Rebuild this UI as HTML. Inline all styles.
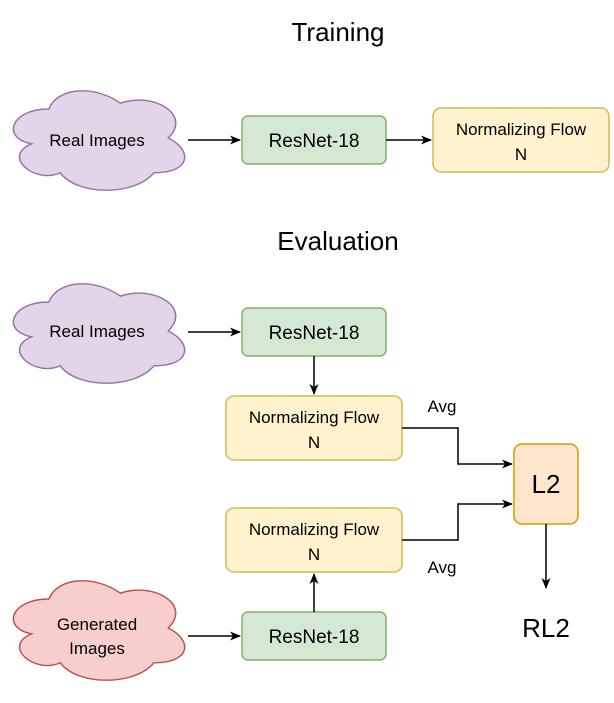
<!DOCTYPE html>
<html><head><meta charset="utf-8"><style>
html,body{margin:0;padding:0;background:#fff;}
svg{display:block;}
text{font-family:"Liberation Sans",sans-serif;fill:#000;}
</style></head><body>
<svg width="614" height="703" viewBox="0 0 614 703" xmlns="http://www.w3.org/2000/svg">
<defs>
<marker id="a" markerWidth="12" markerHeight="12" refX="10" refY="6" orient="auto" markerUnits="userSpaceOnUse">
<path d="M0,1.5 L11,6 L0,10.5 L3,6 Z" fill="#000"/></marker>
<path id="c" d="M44,29 C8.8,29 0,58 28.16,63.8 C0,76.56 31.68,104.4 54.56,92.8 C70.4,116 123.2,116 140.8,92.8 C176,92.8 176,69.6 154,58 C176,34.8 140.8,11.6 110,23.2 C88,5.8 52.8,5.8 44,29 Z"/>
</defs>

<text x="338" y="41" font-size="26" text-anchor="middle">Training</text>
<text x="338" y="250" font-size="26" text-anchor="middle">Evaluation</text>

<!-- clouds -->
<g transform="translate(1,80) scale(1.086,1)"><use href="#c" fill="#e1d5e7" stroke="#9673a6" stroke-width="1.4"/></g>
<text x="97" y="146" font-size="17" text-anchor="middle">Real Images</text>
<g transform="translate(1,273) scale(1.086,1)"><use href="#c" fill="#e1d5e7" stroke="#9673a6" stroke-width="1.4"/></g>
<text x="97" y="337" font-size="17" text-anchor="middle">Real Images</text>
<g transform="translate(1,570) scale(1.086,1)"><use href="#c" fill="#f8cecc" stroke="#b85450" stroke-width="1.4"/></g>
<text x="97" y="630" font-size="17" text-anchor="middle">Generated</text>
<text x="97" y="654" font-size="17" text-anchor="middle">Images</text>

<!-- resnets -->
<g fill="#d5e8d4" stroke="#82b366" stroke-width="1.5">
<rect x="242" y="116" width="144" height="48" rx="6"/>
<rect x="242" y="308" width="144" height="48" rx="6"/>
<rect x="242" y="612" width="144" height="48" rx="6"/>
</g>
<g font-size="19" text-anchor="middle">
<text x="314" y="147">ResNet-18</text>
<text x="314" y="339">ResNet-18</text>
<text x="314" y="643">ResNet-18</text>
</g>

<!-- NFs -->
<g fill="#fff2cc" stroke="#d6b656" stroke-width="1.5">
<rect x="433" y="108" width="176" height="64" rx="8"/>
<rect x="226" y="396" width="176" height="64" rx="8"/>
<rect x="226" y="508" width="176" height="64" rx="8"/>
</g>
<g font-size="17" text-anchor="middle">
<text x="521" y="135">Normalizing Flow</text><text x="521" y="160">N</text>
<text x="314" y="423">Normalizing Flow</text><text x="314" y="448">N</text>
<text x="314" y="535">Normalizing Flow</text><text x="314" y="560">N</text>
</g>

<!-- L2 -->
<rect x="514" y="444" width="64" height="80" rx="8" fill="#ffe6cc" stroke="#d79b00" stroke-width="1.5"/>
<text x="546" y="493" font-size="26" text-anchor="middle">L2</text>
<text x="546" y="637" font-size="26" text-anchor="middle">RL2</text>
<text x="442" y="412" font-size="17" text-anchor="middle">Avg</text>
<text x="442" y="573" font-size="17" text-anchor="middle">Avg</text>

<!-- connectors -->
<g stroke="#000" stroke-width="1.5" fill="none" marker-end="url(#a)">
<path d="M188,140 L240,140"/>
<path d="M386,140 L431,140"/>
<path d="M188,332 L240,332"/>
<path d="M314,356 L314,394"/>
<path d="M402,428 L458,428 L458,464 L512,464"/>
<path d="M402,540 L458,540 L458,504 L512,504"/>
<path d="M546,524 L546,588"/>
<path d="M188,636 L240,636"/>
<path d="M314,612 L314,574"/>
</g>
</svg>
</body></html>
